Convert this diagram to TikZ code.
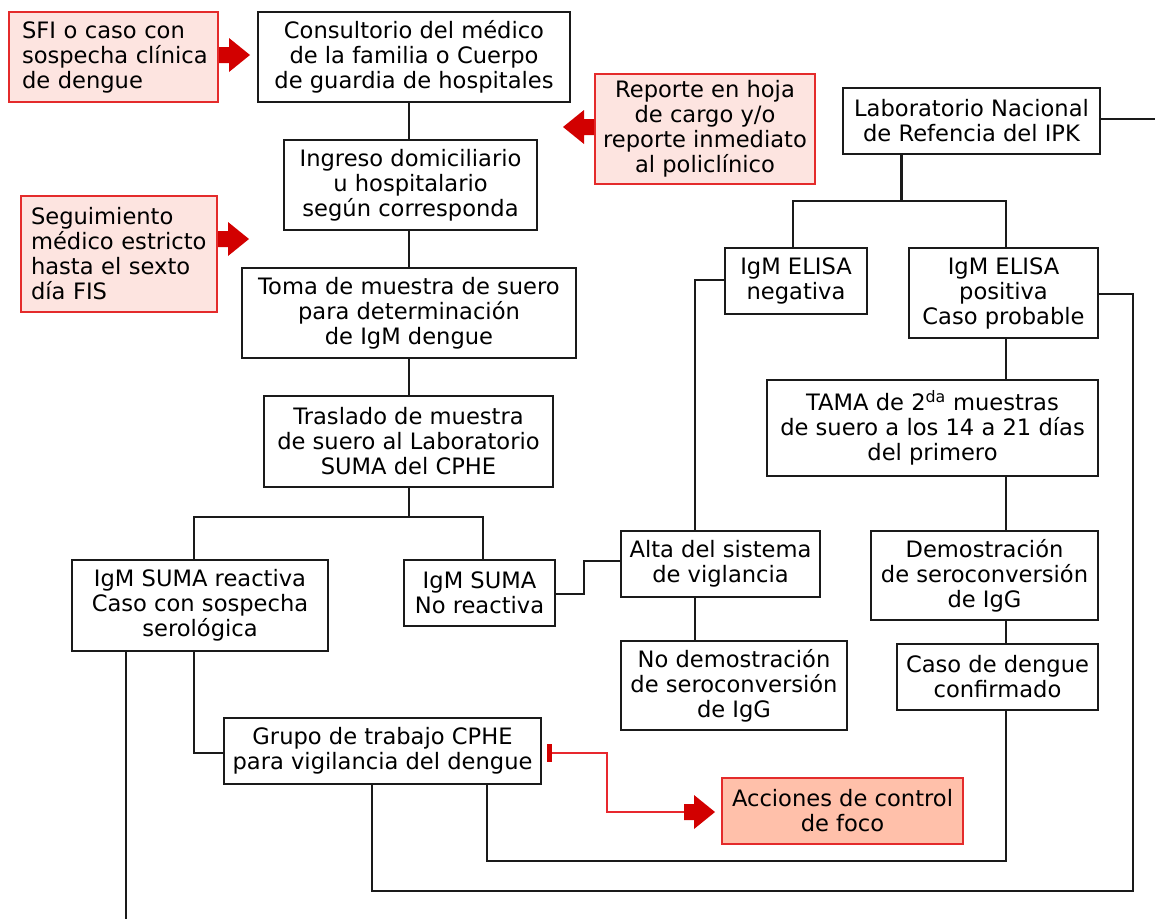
\documentclass[tikz,border=0pt]{standalone}
\usepackage{fontspec}
\setmainfont{DejaVu Sans}
\usetikzlibrary{calc,arrows.meta}
\definecolor{pinkfill}{HTML}{FDE4E0}
\definecolor{redborder}{HTML}{E42B2B}
\definecolor{salmonfill}{HTML}{FFC0AA}
\definecolor{arrowred}{HTML}{D20000}
\definecolor{redline}{HTML}{E8282E}
\definecolor{linegray}{HTML}{1A1A1A}
\newcommand{\blockarrowR}[1]{\fill[arrowred] (#1) ++(0,-8) -- ++(10,0) -- ++(0,-9) -- ++(21,17) -- ++(-21,17) -- ++(0,-9) -- ++(-10,0) -- cycle;}
\newcommand{\blockarrowL}[1]{\fill[arrowred] (#1) ++(0,-8) -- ++(-10,0) -- ++(0,-9) -- ++(-21,17) -- ++(21,17) -- ++(0,-9) -- ++(10,0) -- cycle;}
\tikzset{
  box/.style={draw=linegray, line width=2.2pt, fill=white, align=center, inner sep=0pt,
    font=\fontsize{22.6}{25}\selectfont},
  notebox/.style={box, draw=redborder, line width=2pt, fill=pinkfill},
  actbox/.style={box, draw=redborder, line width=2pt, fill=salmonfill},
  conn/.style={draw=linegray, line width=2.2pt, line cap=rect},
  redconn/.style={draw=redline, line width=2pt},
}
\begin{document}
\begin{tikzpicture}[x=1pt,y=-1pt]
\useasboundingbox (0,0) rectangle (1155,918);
% connectors drawn first (boxes cover their ends)
\coordinate (cx) at (409,0);
\coordinate (ax) at (695,0);
\coordinate (lx) at (901.5,0);
\coordinate (nx) at (793,0);
\coordinate (rc) at (1006,0);
\coordinate (g1) at (487,0);
\coordinate (g2) at (372,0);
\coordinate (out1) at (1155,119);
\coordinate (out2) at (126,918);
% nodes
\node[notebox, align=left, inner xsep=13pt, text width=183pt, minimum height=90pt] (sfi) at (113.5,57) {\mbox{SFI o caso con}\\\mbox{sospecha clínica}\\\mbox{de dengue}};
\node[box, minimum width=312pt, minimum height=90pt] (cons) at (414,57) {Consultorio del médico\\de la familia o Cuerpo\\de guardia de hospitales};
\node[notebox, minimum width=220pt, minimum height=110pt] (rep) at (705,129) {Reporte en hoja\\de cargo y/o\\reporte inmediato\\al policlínico};
\node[box, minimum width=257pt, minimum height=66pt] (lab) at (971.5,121) {Laboratorio Nacional\\de Refencia del IPK};
\node[box, minimum width=253pt, minimum height=90pt] (ing) at (410.5,185) {Ingreso domiciliario\\u hospitalario\\según corresponda};
\node[notebox, align=left, inner xsep=10pt, text width=176pt, minimum height=116pt] (seg) at (119,254) {\mbox{Seguimiento}\\\mbox{médico estricto}\\\mbox{hasta el sexto}\\\mbox{día FIS}};
\node[box, minimum width=142pt, minimum height=66pt] (neg) at (796,281) {IgM ELISA\\negativa};
\node[box, minimum width=189pt, minimum height=90pt] (pos) at (1003.5,293) {IgM ELISA\\positiva\\Caso probable};
\node[box, minimum width=334pt, minimum height=90pt] (toma) at (409,313) {Toma de muestra de suero\\para determinación\\de IgM dengue};
\node[box, minimum width=331pt, minimum height=96pt] (tama) at (932.5,428) {TAMA de 2\textsuperscript{da} muestras\\de suero a los 14 a 21 días\\del primero};
\node[box, minimum width=289pt, minimum height=91pt] (tras) at (408.5,441.5) {Traslado de muestra\\de suero al Laboratorio\\SUMA del CPHE};
\node[box, minimum width=199pt, minimum height=66pt] (alta) at (720.5,564) {Alta del sistema\\de viglancia};
\node[box, minimum width=227pt, minimum height=89pt] (dem) at (984.5,575.5) {Demostración\\de seroconversión\\de IgG};
\node[box, minimum width=256pt, minimum height=91pt] (reac) at (200,605.5) {IgM SUMA reactiva\\Caso con sospecha\\serológica};
\node[box, minimum width=151pt, minimum height=66pt] (nor) at (479.5,593) {IgM SUMA\\No reactiva};
\node[box, minimum width=226pt, minimum height=89pt] (nodem) at (734,685.5) {No demostración\\de seroconversión\\de IgG};
\node[box, minimum width=201pt, minimum height=66pt] (caso) at (997.5,677) {Caso de dengue\\confirmado};
\node[box, minimum width=317pt, minimum height=66pt] (grupo) at (382.5,751) {Grupo de trabajo CPHE\\para vigilancia del dengue};
\node[actbox, minimum width=241pt, minimum height=66pt] (acc) at (842.5,811) {Acciones de control\\de foco};
% connectors
\draw[conn] (cons.south -| cx) -- (ing.north -| cx);
\draw[conn] (ing.south -| cx) -- (toma.north -| cx);
\draw[conn] (toma.south -| cx) -- (tras.north -| cx);
\draw[conn] (tras.south -| cx) -- ++(0,29) coordinate (j1);
\draw[conn] (j1) -| ([xshift=-6pt]reac.north);
\draw[conn] (j1) -| ([xshift=3.5pt]nor.north);
\draw[conn] ([yshift=-1pt]nor.east) -- ++(28,0) |- ([yshift=3pt]alta.west);
\draw[conn] ([yshift=1pt]neg.west) -| (alta.north -| ax);
\draw[conn] (alta.south -| ax) -- (nodem.north -| ax);
\draw[conn] (lab.south -| lx) -- ++(0,46) coordinate (j2);
\draw[conn] (j2) -| (neg.north -| nx);
\draw[conn] (j2) -| (pos.north -| rc);
\draw[conn] (lab.east |- out1) -- (out1);
\draw[conn] (pos.south -| rc) -- (tama.north -| rc);
\draw[conn] (tama.south -| rc) -- (dem.north -| rc);
\draw[conn] (dem.south -| rc) -- (caso.north -| rc);
\draw[conn] (caso.south -| rc) -- ++(0,150) -| (grupo.south -| g1);
\draw[conn] ([yshift=-1pt]pos.east) -- ++(34,0) -- ++(0,597) -| (grupo.south -| g2);
\draw[conn] ([xshift=-6pt]reac.south) |- ([yshift=-2pt]grupo.west);
\draw[conn] (reac.south -| out2) -- (out2);
% red connector with bar end
\draw[redconn] ([xshift=6pt,yshift=-2pt]grupo.east) coordinate (rb) -- ++(59,0) |- ([xshift=-37pt,yshift=-1pt]acc.west) coordinate (ra);
\fill[arrowred] ([xshift=-1pt,yshift=9pt]rb) rectangle ([xshift=4pt,yshift=-9pt]rb);
\blockarrowR{ra}
% block arrows
\blockarrowR{[yshift=2pt]sfi.east}
\blockarrowR{[yshift=15pt]seg.east}
\blockarrowL{[yshift=2pt]rep.west}
\end{tikzpicture}
\end{document}
